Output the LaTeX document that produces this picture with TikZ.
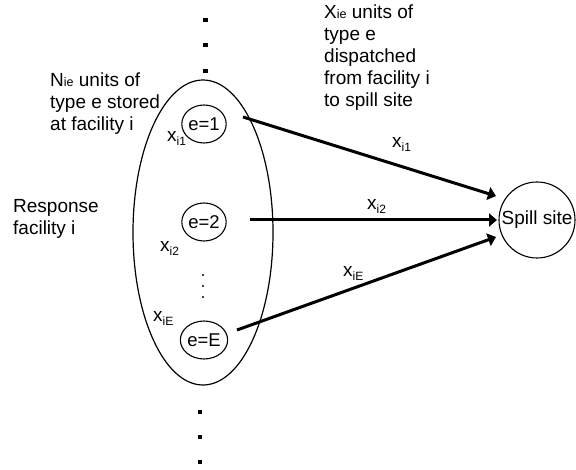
\documentclass[tikz,border=0pt]{standalone}
\usepackage{fontspec}
\setmainfont{Liberation Sans}
\usetikzlibrary{arrows.meta,shapes.geometric}
\newcommand{\xsub}[1]{x\raisebox{-4pt}{\fontsize{12}{12}\selectfont #1}}
\newcommand{\smallie}{{\fontsize{12.5}{12.5}\selectfont ie}}
\begin{document}
\begin{tikzpicture}[x=1pt,y=-1pt,
  txt/.style={font=\fontsize{19}{22}\selectfont, inner sep=0pt, align=left, anchor=north west},
  unit/.style={draw, line width=1.1pt, ellipse, minimum width=44pt, minimum height=38pt, inner sep=0pt, font=\fontsize{18.5}{20}\selectfont},
  bigdot/.style={fill, rectangle, minimum size=4.5pt, inner sep=0pt},
  smalldot/.style={fill, circle, minimum size=2.2pt, inner sep=0pt},
  flow/.style={line width=3pt, -{Triangle[length=8pt,width=13pt]}},
  lab/.style={font=\fontsize{19}{22}\selectfont, inner sep=0pt, anchor=base west}]
\useasboundingbox (0,0) rectangle (576,470);

% top dots
\node[bigdot] (t1) at (205.5,20) {};
\node[bigdot] (t2) at (205.5,45) {};
\node[bigdot] (t3) at (205.5,71) {};
% bottom dots
\node[bigdot] (b1) at (200,412) {};
\node[bigdot] (b2) at (200,437) {};
\node[bigdot] (b3) at (200,462) {};

% facility
\node[draw, ellipse, line width=1.2pt, minimum width=140pt, minimum height=305pt, inner sep=0pt] (fac) at (203,232.5) {};

% units
\node[unit] (e1) at (204,124) {e=1};
\node[unit] (e2) at (204,222) {e=2};
\node[unit] (eE) at (204,340) {e=E};

% inner dots
\node[smalldot] (d1) at (203,275) {};
\node[smalldot] (d2) at (203,286) {};
\node[smalldot] (d3) at (203,297) {};

% inner labels
\node[lab] (l1) at (167,142) {\xsub{i1}};
\node[lab] (l2) at (160,252) {\xsub{i2}};
\node[lab] (lE) at (153,322) {\xsub{iE}};

% spill site
\node[draw, circle, line width=1.1pt, minimum size=76pt, inner sep=0pt, font=\fontsize{19}{22}\selectfont] (spill) at (537,220) {Spill site};

% arrows
\coordinate (a1s) at (243,117);
\coordinate (a1e) at (496,196);
\coordinate (a2s) at (250,220);
\coordinate (a2e) at (497,220);
\coordinate (a3s) at (237,330);
\coordinate (a3e) at (496,237);
\draw[flow] (a1s) -- (a1e);
\draw[flow] (a2s) -- (a2e);
\draw[flow] (a3s) -- (a3e);

% arrow labels
\node[lab] (f1) at (392,148) {\xsub{i1}};
\node[lab] (f2) at (367,210) {\xsub{i2}};
\node[lab] (fE) at (343,277) {\xsub{iE}};

% texts
\node[txt] (stored) at (50,73) {N\smallie{} units of\\type e stored\\at facility i};
\node[txt] (disp) at (324,4.5) {X\smallie{} units of\\type e\\dispatched\\from facility i\\to spill site};
\node[txt] (resp) at (13,199.5) {Response\\facility i};
\end{tikzpicture}
\end{document}
